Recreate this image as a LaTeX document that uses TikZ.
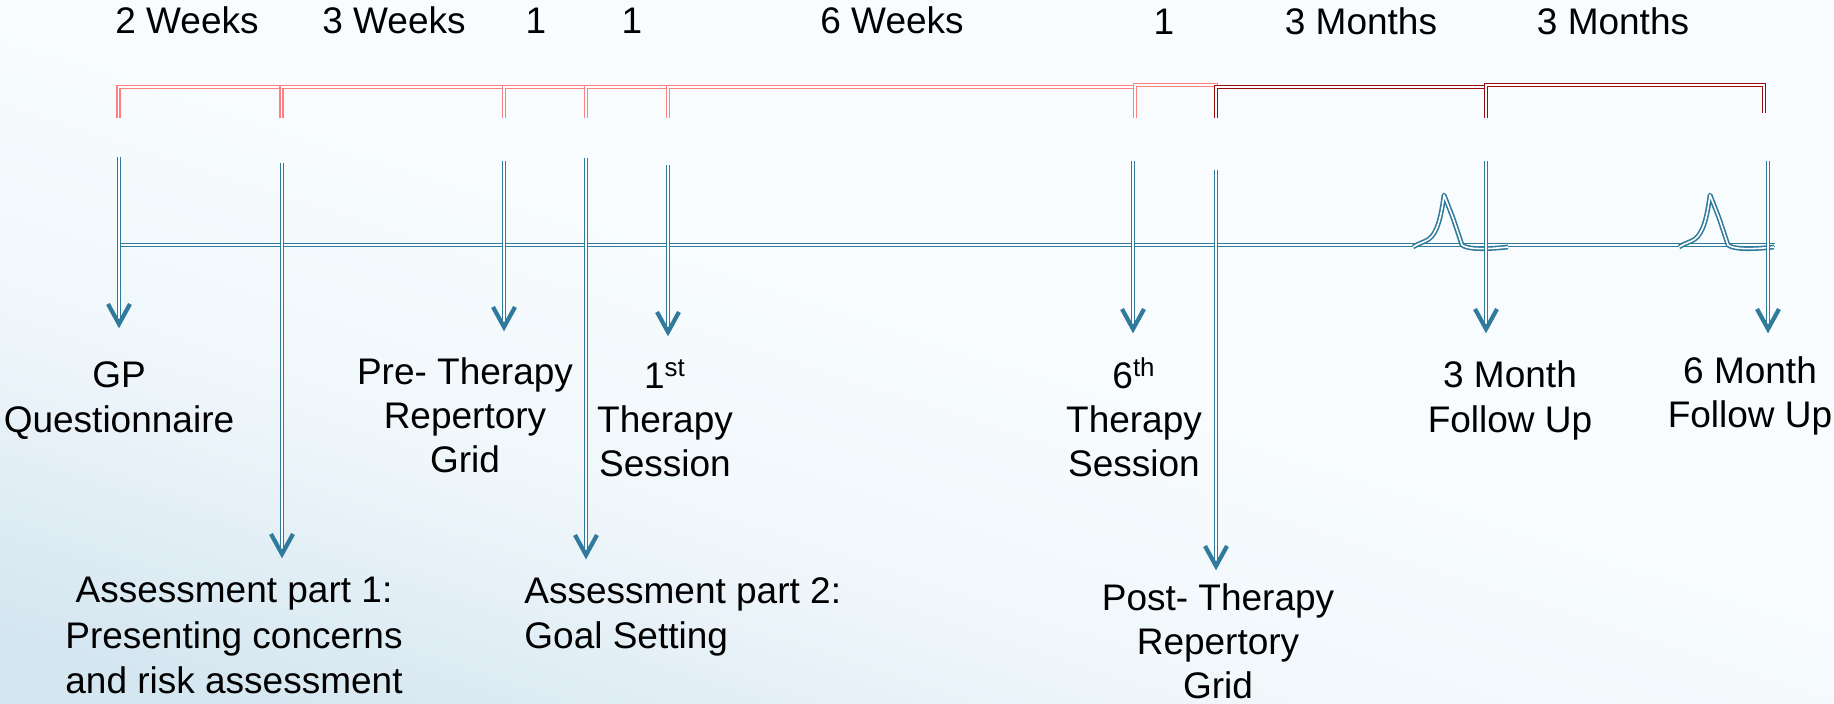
\documentclass[tikz,border=0pt]{standalone}
\usepackage{fontspec}
\setmainfont{Liberation Sans}
\usetikzlibrary{calc}
\definecolor{tlblue}{RGB}{48,122,156}
\definecolor{tlpink}{RGB}{255,128,128}
\definecolor{tldark}{RGB}{155,10,10}
\definecolor{bgtop}{RGB}{248,252,254}
\definecolor{bgmid}{RGB}{240,247,251}
\definecolor{bgbot}{RGB}{212,230,240}
\pgfdeclareverticalshading{bgsh}{100bp}{color(0bp)=(bgbot); color(22bp)=(bgbot); color(38bp)=(bgmid); color(52bp)=(bgtop); color(100bp)=(bgtop)}
\newcommand\lblfont{\fontsize{18.5}{22}\selectfont}
\newcommand\lblfontb{\fontsize{18.5}{22.75}\selectfont}
\begin{document}
\begin{tikzpicture}[x=0.5pt,y=-0.5pt,
  lbl/.style={font=\lblfont, inner sep=0pt, align=center, anchor=north, text=black},
  toplbl/.style={font=\lblfont, inner sep=0pt, anchor=base, text=black},
  bshaft/.style={draw=tlblue, double=white, line width=0.8pt, double distance=0.8pt},
  bumpline/.style={bshaft, line join=round},
  chev/.style={draw=tlblue, line width=2.1pt, line join=miter},
  pinkbr/.style={draw=tlpink, double=white, line width=0.8pt, double distance=0.7pt},
  darkbr/.style={draw=tldark, double=white, line width=0.8pt, double distance=0.7pt},
]
\shade[shading=bgsh, shading angle=-18] (0,0) rectangle (1834,704);
\useasboundingbox (0,0) rectangle (1834,704);

% top interval labels
\node[toplbl] (t1) at (187,34) {2 Weeks};
\node[toplbl] (t2) at (394,34) {3 Weeks};
\node[toplbl] (t3) at (536,34) {1};
\node[toplbl] (t4) at (632,34) {1};
\node[toplbl] (t5) at (892,34) {6 Weeks};
\node[toplbl] (t6) at (1164,35) {1};
\node[toplbl] (t7) at (1361,35) {3 Months};
\node[toplbl] (t8) at (1613,35) {3 Months};

% brackets
\coordinate (k1) at (118.5,87);
\coordinate (k2) at (281.7,87);
\coordinate (k3) at (504,87);
\coordinate (k4) at (586,87);
\coordinate (k5) at (668,87);
\coordinate (k6) at (1135,87);
\coordinate (k7) at (1216,87);
\coordinate (k8) at (1486,87);
\coordinate (k9) at (1764,85);
\draw[pinkbr] (118.5,118) -- (k1) -- (k2) -- (281.7,118);
\draw[pinkbr] (281.7,118) -- (k2) -- (k3) -- (504,118);
\draw[pinkbr] (504,118) -- (k3) -- (k4) -- (586,118);
\draw[pinkbr] (586,118) -- (k4) -- (k5) -- (668,118);
\draw[pinkbr] (668,118) -- (k5) -- (k6) -- (1135,118);
\draw[pinkbr] (1135,118) -- (1135,85) -- (1216,85) -- (1216,118);
\draw[darkbr] (1216,118) -- (k7) -- (k8) -- (1486,118);
\draw[darkbr] (1486,118) -- (1486,85) -- (k9) -- (1764,113);

% timeline
\coordinate (tlS) at (119,245);
\coordinate (tlE) at (1775,245);
\draw[bshaft] (tlS) -- (tlE);
\draw[bumpline] (1413,247) .. controls (1419,243) and (1425,242) .. (1429,239)
  .. controls (1437,233) and (1441,218) .. (1444,195) -- (1453,218) -- (1462,245)
  .. controls (1468,250) and (1490,249) .. (1508,247);
\draw[bumpline] (1679,247) .. controls (1685,243) and (1691,242) .. (1695,239)
  .. controls (1703,233) and (1707,218) .. (1710,195) -- (1719,218) -- (1728,245)
  .. controls (1734,250) and (1756,249) .. (1774,247);

% arrow start and tip coordinates
\coordinate (gpS) at (119,157);  \coordinate (gpT) at (119,324);
\coordinate (a1S) at (282,163);  \coordinate (a1T) at (282,554);
\coordinate (prS) at (504,161);  \coordinate (prT) at (504,327);
\coordinate (a2S) at (586,158);  \coordinate (a2T) at (586,555);
\coordinate (f1S) at (668,165);  \coordinate (f1T) at (668,332);
\coordinate (s6S) at (1133,161); \coordinate (s6T) at (1133,329);
\coordinate (poS) at (1216,170); \coordinate (poT) at (1216,566);
\coordinate (m3S) at (1486,161); \coordinate (m3T) at (1486,329);
\coordinate (m6S) at (1768,161); \coordinate (m6T) at (1768,329);

\foreach \p in {gp,a1,pr,a2,f1,s6,po,m3,m6}{
  \draw[bshaft] (\p S) -- (\p T);
  \draw[chev] ($(\p T)+(-11,-20)$) -- (\p T) -- ($(\p T)+(11,-20)$);
}

% labels
\node[lbl, font=\fontsize{18.5}{22.5}\selectfont] (gpL) at (119,361) {GP\\Questionnaire};
\node[lbl] (prL) at (465,357) {Pre- Therapy\\Repertory\\Grid};
\node[lbl] (f1L) at (665,359) {1\textsuperscript{st}\\Therapy\\Session};
\node[lbl] (s6L) at (1134,357) {6\textsuperscript{th}\\Therapy\\Session};
\node[lbl, font=\fontsize{18.5}{22.5}\selectfont] (m3L) at (1510,360) {3 Month\\Follow Up};
\node[lbl, font=\fontsize{18.5}{22}\selectfont] (m6L) at (1750,356) {6 Month\\Follow Up};
\node[lbl, font=\lblfontb] (a1L) at (234,577) {Assessment part 1:\\Presenting concerns\\and risk assessment};
\node[lbl, font=\lblfontb, align=left, anchor=north west] (a2L) at (524,577) {Assessment part 2:\\Goal Setting};
\node[lbl] (poL) at (1218,583) {Post- Therapy\\Repertory\\Grid};
\end{tikzpicture}
\end{document}
